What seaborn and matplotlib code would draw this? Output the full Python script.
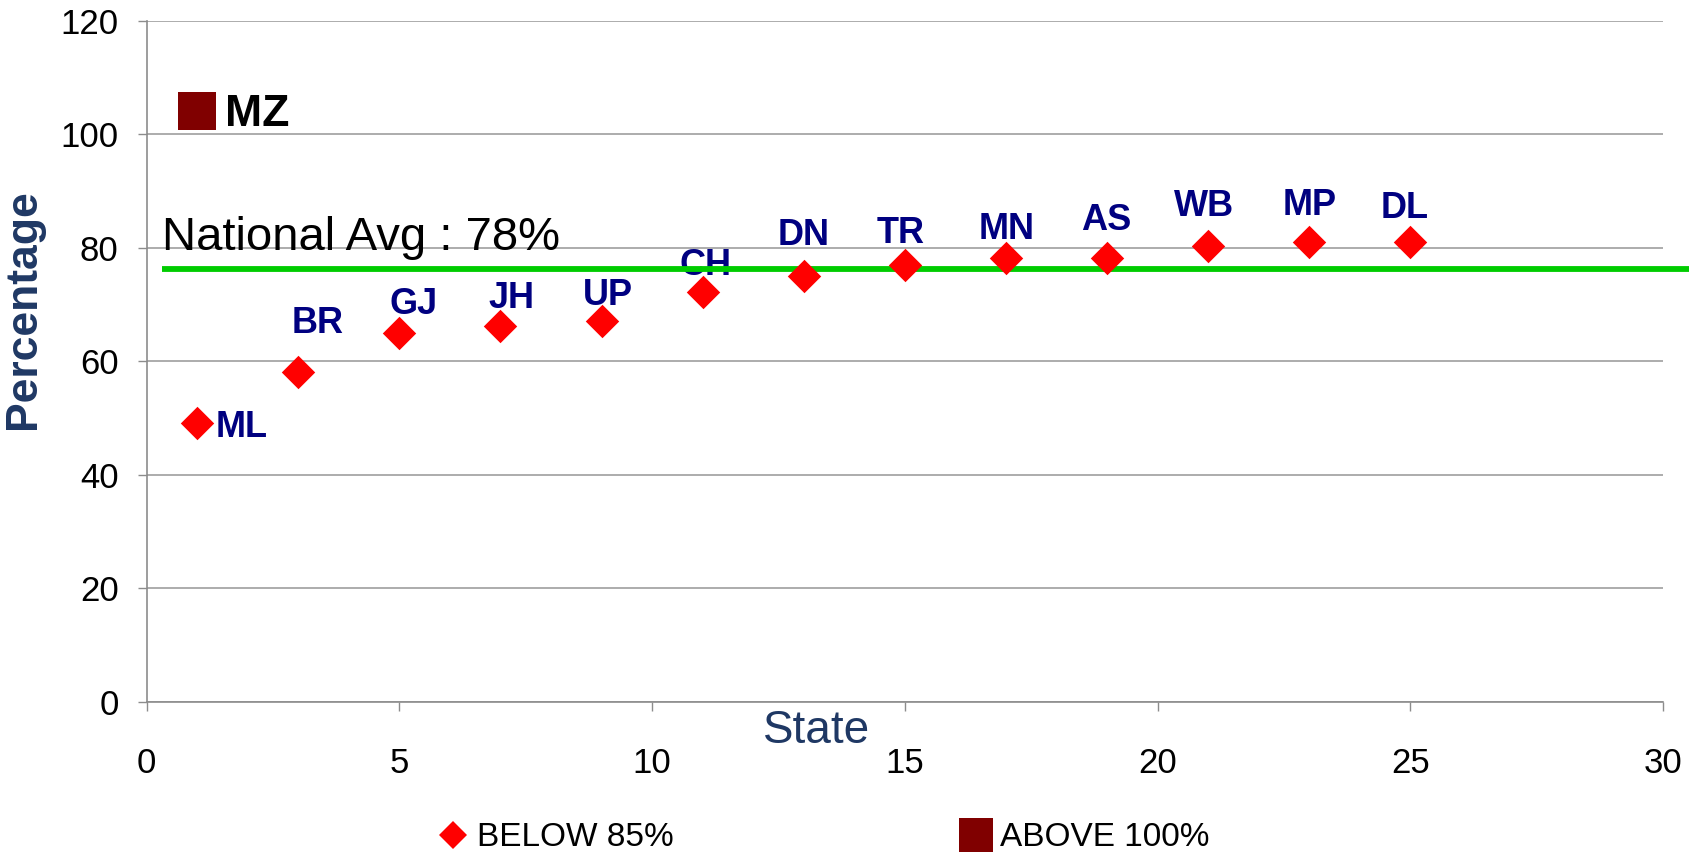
import matplotlib
matplotlib.use("Agg")
import matplotlib.pyplot as plt
from matplotlib.lines import Line2D
import seaborn as sns
import pandas as pd

# ---------------- data ----------------
states = ["ML", "BR", "GJ", "JH", "UP", "CH", "DN", "TR", "MN", "AS", "WB", "MP", "DL"]
state_x = [1, 3, 5, 7, 9, 11, 13, 15, 17, 19, 21, 23, 25]
pct = [49.0, 58.1, 65.0, 66.1, 67.0, 72.2, 75.0, 76.9, 78.2, 78.2, 80.2, 80.9, 80.9]

above_states = ["MZ"]
above_x = [1]
above_pct = [104.1]

national_avg_line = 76.3
national_avg_text = "National Avg : 78%"

x_ticks = [0, 5, 10, 15, 20, 25, 30]
y_ticks = [0, 20, 40, 60, 80, 100, 120]

below_df = pd.DataFrame({"State": state_x, "Percentage": pct, "label": states})
above_df = pd.DataFrame({"State": above_x, "Percentage": above_pct, "label": above_states})

# ---------------- style ----------------
sns.set_theme(style="white")
plt.rcParams["font.family"] = ["Liberation Sans", "DejaVu Sans"]
plt.rcParams["text.color"] = "black"

W, H = 1690, 859
fig = plt.figure(figsize=(W / 100, H / 100), dpi=100)
ax = fig.add_axes([146.6 / W, 1 - 701.6 / H, (1663 - 146.6) / W, (701.6 - 20.5) / H])

grey = "#8c8c8c"
navy = "#000080"

sns.scatterplot(data=below_df, x="State", y="Percentage", marker="D", s=290,
                color="#FF0000", linewidth=0, ax=ax, zorder=4, legend=False)
sns.scatterplot(data=above_df, x="State", y="Percentage", marker="s", s=750,
                color="#800000", linewidth=0, ax=ax, zorder=4, legend=False)

ax.set_xlim(0, 30)
ax.set_ylim(0, 120)
ax.set_xticks(x_ticks)
ax.set_yticks(y_ticks)
ax.set_xlabel("")
ax.set_ylabel("")

ax.yaxis.grid(True, color="#a6a6a6", linewidth=1.3)
ax.xaxis.grid(False)
ax.set_axisbelow(True)
for side in ["top", "right"]:
    ax.spines[side].set_visible(False)
for side in ["left", "bottom"]:
    ax.spines[side].set_color(grey)
    ax.spines[side].set_linewidth(1.2)

ax.tick_params(axis="y", which="major", left=True, length=6.5, width=1, color=grey,
               pad=13.7, labelsize=25, labelcolor="black")
ax.tick_params(axis="x", which="major", bottom=True, length=6.5, width=1, color=grey,
               pad=26, labelsize=25, labelcolor="black")

# national average line
ax.plot([0.3, 30.55], [national_avg_line, national_avg_line], color="#00CC00",
        linewidth=4.2, solid_capstyle="butt", clip_on=False, zorder=3)
ax.text(0.3, 79.6, national_avg_text, fontsize=34, color="black",
        ha="left", va="baseline", zorder=3.5)

# data labels (pixel offsets from each marker)
label_offsets = {
    "ML": (18, -4, "left"), "BR": (19, 48, "center"), "GJ": (14, 28, "center"),
    "JH": (11, 28, "center"), "UP": (6, 26, "center"), "CH": (3, 26, "center"),
    "DN": (0, 40, "center"), "TR": (-4, 32, "center"), "MN": (1, 28, "center"),
    "AS": (-1, 37, "center"), "WB": (-4, 40, "center"), "MP": (0, 37, "center"),
    "DL": (-6, 34, "center"),
}
for lab, xv, yv in zip(states, state_x, pct):
    dx, dy, ha = label_offsets[lab]
    ax.annotate(lab, (xv, yv), xytext=(dx, dy), textcoords="offset pixels",
                ha=ha, va="center", fontsize=26, fontweight="bold", color=navy,
                zorder=2.5)
for lab, xv, yv in zip(above_states, above_x, above_pct):
    ax.annotate(lab, (xv, yv), xytext=(28, -4), textcoords="offset pixels",
                ha="left", va="center", fontsize=32, fontweight="bold", color="black",
                zorder=2.5)

# axis titles
fig.text(23.7 / W, 1 - 309 / H, "Percentage", rotation=90, ha="center", va="center",
         fontsize=32, fontweight="bold", color="#1F3864")
fig.text(817 / W, 1 - 731 / H, "State", ha="center", va="center",
         fontsize=33, color="#1F3864")

# legend
handles = [
    Line2D([], [], linestyle="none", marker="D", markersize=14.5, color="#FF0000",
           markeredgewidth=0, label="BELOW 85%"),
    Line2D([], [], linestyle="none", marker="s", markersize=24.5, color="#800000",
           markeredgewidth=0, label="ABOVE 100%"),
]
leg = fig.legend(handles=handles, loc="center left", bbox_to_anchor=(440 / W, 1 - 838 / H),
                 ncol=2, frameon=False, fontsize=24, handlelength=0.8, handletextpad=0.32,
                 columnspacing=8.65, borderpad=0, borderaxespad=0)
for t in leg.get_texts():
    t.set_color("black")

fig.savefig("out.png", dpi=100)
